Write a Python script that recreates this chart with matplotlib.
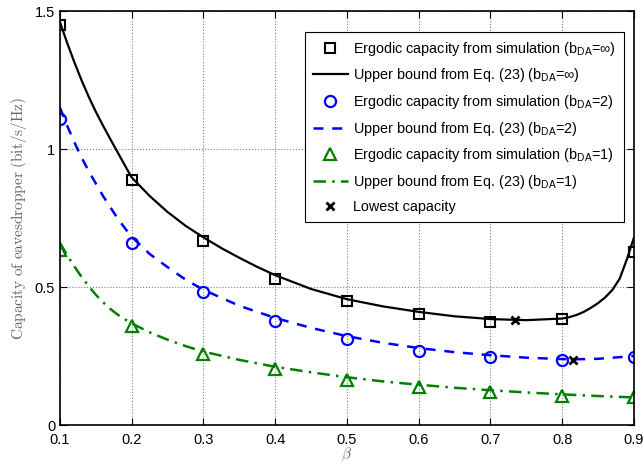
import numpy as np
import matplotlib.pyplot as plt

plt.rcParams['font.family'] = ['Liberation Sans', 'DejaVu Sans']
plt.rcParams['mathtext.fontset'] = 'custom'
plt.rcParams['mathtext.rm'] = 'Liberation Sans'
plt.rcParams['mathtext.it'] = 'Liberation Sans:italic'

# simulation points
beta = [0.1, 0.2, 0.3, 0.4, 0.5, 0.6, 0.7, 0.8, 0.9]
sim_inf = [1.45, 0.888, 0.667, 0.529, 0.449, 0.402, 0.373, 0.384, 0.627]
sim_2 = [1.109, 0.659, 0.482, 0.377, 0.312, 0.268, 0.246, 0.236, 0.246]
sim_1 = [0.633, 0.359, 0.257, 0.203, 0.163, 0.138, 0.12, 0.105, 0.10]

# upper bound curves
beta_inf = [0.1, 0.11, 0.12, 0.13, 0.14, 0.15, 0.16, 0.17, 0.18, 0.19, 0.2,
            0.225, 0.25, 0.275, 0.3, 0.325, 0.35, 0.375, 0.4, 0.45, 0.5, 0.55,
            0.6, 0.65, 0.7, 0.75, 0.8, 0.81, 0.82, 0.83, 0.84, 0.85, 0.86,
            0.87, 0.88, 0.89, 0.9]
ub_inf = [1.46, 1.385, 1.315, 1.25, 1.19, 1.135, 1.085, 1.037, 0.99, 0.943, 0.897,
          0.83, 0.772, 0.722, 0.68, 0.641, 0.606, 0.573, 0.543, 0.493, 0.456, 0.43,
          0.41, 0.394, 0.384, 0.38, 0.386, 0.391, 0.399, 0.41, 0.425, 0.442, 0.463,
          0.49, 0.53, 0.60, 0.68]
beta_b = [0.1, 0.11, 0.12, 0.13, 0.14, 0.15, 0.16, 0.17, 0.18, 0.19, 0.2,
          0.225, 0.25, 0.275, 0.3, 0.35, 0.4, 0.45, 0.5, 0.55, 0.6, 0.65,
          0.7, 0.75, 0.8, 0.815, 0.85, 0.9]
ub_2 = [1.15, 1.085, 1.025, 0.97, 0.92, 0.875, 0.83, 0.79, 0.75, 0.715, 0.682,
        0.62, 0.572, 0.527, 0.49, 0.432, 0.388, 0.352, 0.322, 0.298, 0.279, 0.264,
        0.253, 0.244, 0.239, 0.238, 0.24, 0.25]
beta_g = [0.1, 0.11, 0.12, 0.13, 0.14, 0.15, 0.16, 0.17, 0.18, 0.19, 0.2,
          0.225, 0.25, 0.275, 0.3, 0.35, 0.4, 0.45, 0.5, 0.55, 0.6, 0.65,
          0.7, 0.75, 0.8, 0.85, 0.9]
ub_1 = [0.66, 0.615, 0.575, 0.537, 0.503, 0.472, 0.445, 0.421, 0.401, 0.384, 0.368,
        0.336, 0.309, 0.286, 0.266, 0.236, 0.211, 0.191, 0.173, 0.158, 0.146, 0.135,
        0.126, 0.118, 0.111, 0.105, 0.10]

# lowest capacity markers
low_x = [0.734, 0.815]
low_y = [0.380, 0.237]

green = (0, 0.5, 0)

fig = plt.figure(figsize=(6.43, 4.65), dpi=100)
ax = fig.add_axes([0.0933, 0.086, 0.8927, 0.89])

ax.plot(beta, sim_inf, 's', color='k', mfc='none', ms=6.5, mew=1.5,
        label=r'Ergodic capacity from simulation (b$_{\mathrm{DA}}$=∞)')
ax.plot(beta_inf, ub_inf, '-', color='k', lw=1.6,
        label=r'Upper bound from Eq. (23) (b$_{\mathrm{DA}}$=∞)')
ax.plot(beta, sim_2, 'o', color='b', mfc='none', ms=8, mew=1.6,
        label=r'Ergodic capacity from simulation (b$_{\mathrm{DA}}$=2)')
ax.plot(beta_b, ub_2, '--', color='b', lw=1.8, dashes=(4, 3.5),
        label=r'Upper bound from Eq. (23) (b$_{\mathrm{DA}}$=2)')
ax.plot(beta, sim_1, '^', color=green, mfc='none', ms=9, mew=1.6,
        label=r'Ergodic capacity from simulation (b$_{\mathrm{DA}}$=1)')
ax.plot(beta_g, ub_1, '-.', color=green, lw=1.8, dashes=(5, 2.5, 1, 2.5),
        label=r'Upper bound from Eq. (23) (b$_{\mathrm{DA}}$=1)')
ax.plot(low_x, low_y, 'x', color='k', ms=6, mew=2, linestyle='none',
        label='Lowest capacity')

ax.set_xlim(0.1, 0.9)
ax.set_ylim(0, 1.5)
ax.set_xticks([0.1, 0.2, 0.3, 0.4, 0.5, 0.6, 0.7, 0.8, 0.9])
ax.set_xticklabels(['0.1', '0.2', '0.3', '0.4', '0.5', '0.6', '0.7', '0.8', '0.9'])
ax.set_yticks([0, 0.5, 1, 1.5])
ax.set_yticklabels(['0', '0.5', '1', '1.5'])
ax.tick_params(direction='in', top=True, right=True, labelsize=10.5, length=5)
ax.tick_params(axis='x', pad=6)
ax.grid(True, linestyle=':', color='0.5', lw=0.8)
for s in ax.spines.values():
    s.set_linewidth(1.2)

ax.set_xlabel(r'$\beta$', fontsize=11, color='0.4', math_fontfamily='cm', labelpad=-1)
ax.set_ylabel(r'$\mathrm{Capacity\ of\ eavesdropper\ (bit/s/Hz)}$', fontsize=11,
              color='0.4', math_fontfamily='cm', labelpad=4)

leg = ax.legend(loc='upper right', bbox_to_anchor=(0.983, 0.95), fontsize=10.4,
                fancybox=False, framealpha=1, edgecolor='k', handlelength=2.4,
                handletextpad=0.4, labelspacing=0.6, borderpad=0.55,
                borderaxespad=0)
leg.get_frame().set_linewidth(0.8)

fig.savefig('out.png', dpi=100)
